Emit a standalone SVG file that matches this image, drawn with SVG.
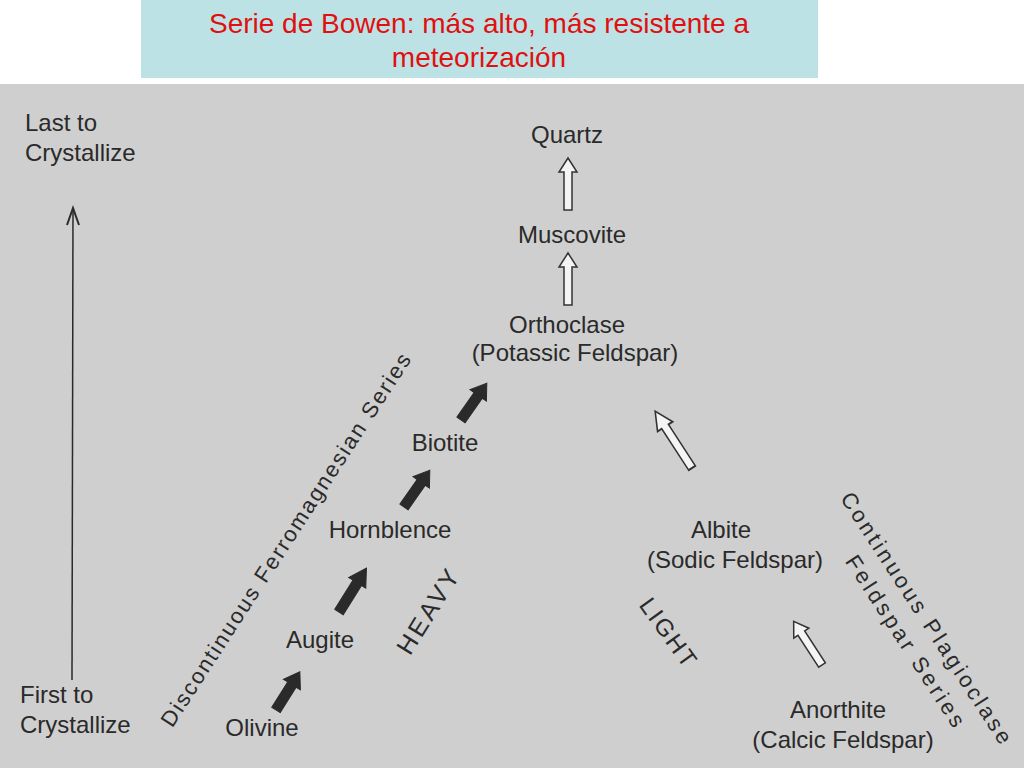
<svg xmlns="http://www.w3.org/2000/svg" width="1024" height="768" viewBox="0 0 1024 768">
<defs>
<style>
.t{font-family:"Liberation Sans",Arial,sans-serif;font-size:24px;fill:#2a2a2a;}
.c{text-anchor:middle;}
.title{font-family:"Liberation Sans",Arial,sans-serif;font-size:28px;fill:#e01010;text-anchor:middle;}
.wa{fill:#f4f4f4;stroke:#333;stroke-width:1.5;}
.ba{fill:#2a2a2a;stroke:#2a2a2a;stroke-width:1;}
</style>
<path id="white" d="M-4,0 L-4,-38 L-9,-38 L0,-52 L9,-38 L4,-38 L4,0 Z"/>
<path id="black" d="M-5,0 L-5,-30 L-10,-30 L0,-45 L10,-30 L5,-30 L5,0 Z"/>
</defs>
<rect x="0" y="0" width="1024" height="768" fill="#ffffff"/>
<rect x="0" y="84" width="1024" height="684" fill="#cfcfcf"/>
<g id="title">
<rect x="141" y="0" width="677" height="78" fill="#bde2e5"/>
<text class="title" x="479" y="33">Serie de Bowen: más alto, más resistente a</text>
<text class="title" x="479" y="67">meteorización</text>
</g>
<g id="axis">
<text class="t" x="25" y="131">Last to</text>
<text class="t" x="25" y="161">Crystallize</text>
<text class="t" x="20" y="703">First to</text>
<text class="t" x="20" y="733">Crystallize</text>
<line x1="73" y1="208" x2="72" y2="680" stroke="#2a2a2a" stroke-width="1.5"/>
<path d="M67,225 L73,208 L79,225" fill="none" stroke="#2a2a2a" stroke-width="2"/>
</g>
<g id="quartz"><text class="t c" x="567" y="143">Quartz</text></g>
<g id="muscovite"><text class="t c" x="572" y="243">Muscovite</text></g>
<g id="orthoclase"><text class="t c" x="567" y="333">Orthoclase</text><text class="t c" x="575" y="361">(Potassic Feldspar)</text></g>
<g id="biotite"><text class="t c" x="445" y="451">Biotite</text></g>
<g id="hornblende"><text class="t c" x="390" y="538">Hornblence</text></g>
<g id="augite"><text class="t c" x="320" y="648">Augite</text></g>
<g id="olivine"><text class="t c" x="262" y="736">Olivine</text></g>
<g id="albite"><text class="t c" x="721" y="538">Albite</text><text class="t c" x="735" y="568">(Sodic Feldspar)</text></g>
<g id="anorthite"><text class="t c" x="838" y="718">Anorthite</text><text class="t c" x="843" y="748">(Calcic Feldspar)</text></g>
<g id="labels">
<text class="t c" style="font-size:22px" textLength="440" lengthAdjust="spacing" transform="translate(292,544) rotate(-57)">Discontinuous Ferromagnesian Series</text>
<text class="t c" style="font-size:25px;letter-spacing:3px" transform="translate(436,615) rotate(-58)">HEAVY</text>
<text class="t c" style="font-size:24px;letter-spacing:2px" transform="translate(662,638) rotate(54)">LIGHT</text>
<text class="t c" style="font-size:22px" textLength="295" lengthAdjust="spacing" transform="translate(920,622) rotate(57)">Continuous Plagioclase</text>
<text class="t c" style="font-size:22px" textLength="200" lengthAdjust="spacing" transform="translate(899,645) rotate(57)">Feldspar Series</text>
</g>
<g id="connectors">
<use href="#white" class="wa" transform="translate(568,210)"/>
<use href="#white" class="wa" transform="translate(568,305)"/>
<use href="#white" class="wa" transform="translate(692,468) rotate(-33) scale(1,1.3)"/>
<use href="#white" class="wa" transform="translate(822,665) rotate(-33)"/>
<use href="#black" class="ba" transform="translate(276,710) rotate(32)"/>
<use href="#black" class="ba" transform="translate(339,612) rotate(32) scale(1,1.15)"/>
<use href="#black" class="ba" transform="translate(404,507) rotate(35)"/>
<use href="#black" class="ba" transform="translate(461,420) rotate(35)"/>
</g>
</svg>
